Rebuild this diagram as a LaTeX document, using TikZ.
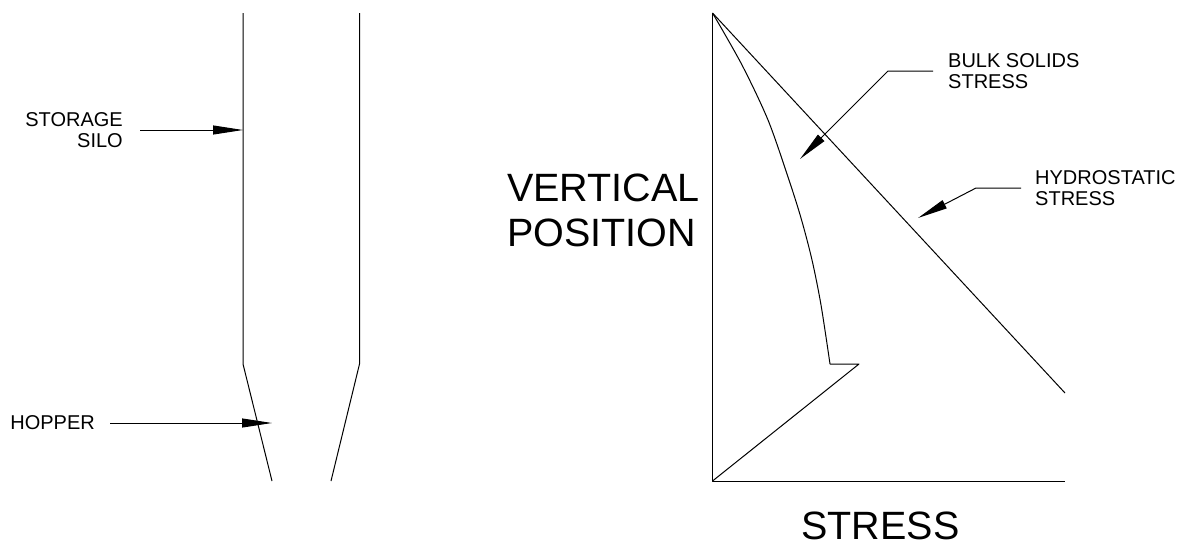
\documentclass[tikz,border=0pt]{standalone}
\usepackage{fontspec}
\setmainfont{Liberation Sans}
\usetikzlibrary{arrows.meta, positioning, calc}

\begin{document}
\begin{tikzpicture}[
    x=1pt, y=-1pt,
    wall/.style={draw=black, line width=1pt, line join=round},
    leader/.style={-{Triangle[length=30pt, width=9pt]}, draw=black, line width=1pt, line join=round},
    tag/.style={inner xsep=15pt, inner ysep=0pt, align=left, font=\fontsize{20}{21.7}\selectfont},
    axistitle/.style={inner sep=0pt, align=left, font=\fontsize{39.5}{45}\selectfont},
  ]
  \useasboundingbox (0,0) rectangle (1190,546);

  % silo outline
  \coordinate (lefttop) at (243,13);
  \coordinate (leftknee) at (243,364);
  \coordinate (leftfoot) at (272,481);
  \coordinate (righttop) at (359.5,13);
  \coordinate (rightknee) at (359.5,364);
  \coordinate (rightfoot) at (331,481);
  \draw[wall] (lefttop) -- (leftknee) -- (leftfoot);
  \draw[wall] (righttop) -- (rightknee) -- (rightfoot);

  % stress plot
  \coordinate (apex) at (712.5,13);
  \coordinate (origin) at (712.5,481);
  \coordinate (axisend) at (1065,481);
  \coordinate (hydroend) at (1065,393);
  \coordinate (bulkknee) at (830,364);
  \coordinate (bulkpeak) at (859,364);
  \draw[wall] (apex) -- (origin) -- (axisend);
  \draw[wall] (apex) -- (hydroend);
  \draw[wall] plot[smooth, tension=0.5] coordinates {(712.5,13) (742,65) (768,120) (788,177) (801,218) (812,260) (821,305) (830,364)} -- (bulkpeak) -- (origin);

  % labels
  \node[tag, anchor=east, align=right, inner xsep=17pt] (silolabel) at (140,130) {STORAGE\\SILO};
  \node[tag, anchor=east] (hopperlabel) at (110,423) {HOPPER};
  \node[tag, anchor=west] (bulklabel) at (933,71) {BULK SOLIDS\\STRESS};
  \node[tag, anchor=west, inner xsep=14pt] (hydrolabel) at (1021,188) {HYDROSTATIC\\STRESS};
  \node[axistitle, anchor=west] (ylabel) at (507,210) {VERTICAL\\POSITION};
  \node[axistitle, anchor=center] (xlabel) at (880.5,526) {STRESS};

  % arrow tips
  \coordinate (silotip) at (243,130);
  \coordinate (hoppertip) at (272,423);
  \coordinate (bulkbend) at (888,71);
  \coordinate (bulktip) at (800,159);
  \coordinate (hydrobend) at (976,188);
  \coordinate (hydrotip) at (918,218);

  \draw[leader] (silolabel.east) -- (silotip);
  \draw[leader] (hopperlabel.east) -- (hoppertip);
  \draw[leader] (bulklabel.west) -- (bulkbend) -- (bulktip);
  \draw[leader] (hydrolabel.west) -- (hydrobend) -- (hydrotip);

\end{tikzpicture}
\end{document}
